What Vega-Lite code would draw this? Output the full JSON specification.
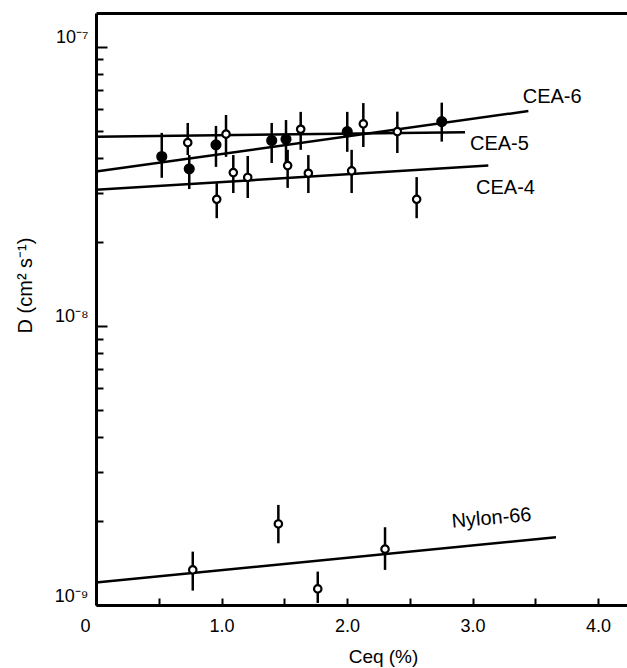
{
  "$schema": "https://vega.github.io/schema/vega-lite/v6.json",
  "width": 531,
  "height": 592,
  "autosize": {"type": "none"},
  "padding": {"left": 96, "top": 13, "right": 0, "bottom": 63},
  "background": "white",
  "config": {"view": {"stroke": null}, "font": "Liberation Sans"},
  "datasets": {
    "pts": [
      {"series": "CEA", "x": 0.524, "y": 4.04e-8, "lo": 3.39e-8, "hi": 4.91e-8, "kind": "filled"},
      {"series": "CEA", "x": 0.731, "y": 4.53e-8, "lo": 4.09e-8, "hi": 5.33e-8, "kind": "open"},
      {"series": "CEA", "x": 0.743, "y": 3.65e-8, "lo": 3.09e-8, "hi": 4.09e-8, "kind": "filled"},
      {"series": "CEA", "x": 0.956, "y": 4.45e-8, "lo": 3.71e-8, "hi": 5.20e-8, "kind": "filled"},
      {"series": "CEA", "x": 1.036, "y": 4.86e-8, "lo": 4.03e-8, "hi": 5.69e-8, "kind": "open"},
      {"series": "CEA", "x": 1.094, "y": 3.54e-8, "lo": 2.99e-8, "hi": 4.09e-8, "kind": "open"},
      {"series": "CEA", "x": 1.209, "y": 3.40e-8, "lo": 2.87e-8, "hi": 4.06e-8, "kind": "open"},
      {"series": "CEA", "x": 0.962, "y": 2.84e-8, "lo": 2.43e-8, "hi": 3.25e-8, "kind": "open"},
      {"series": "CEA", "x": 1.400, "y": 4.61e-8, "lo": 3.83e-8, "hi": 5.33e-8, "kind": "filled"},
      {"series": "CEA", "x": 1.514, "y": 4.66e-8, "lo": 3.83e-8, "hi": 5.46e-8, "kind": "filled"},
      {"series": "CEA", "x": 1.527, "y": 3.75e-8, "lo": 3.12e-8, "hi": 4.27e-8, "kind": "open"},
      {"series": "CEA", "x": 1.631, "y": 5.06e-8, "lo": 4.27e-8, "hi": 5.84e-8, "kind": "open"},
      {"series": "CEA", "x": 1.692, "y": 3.52e-8, "lo": 2.99e-8, "hi": 4.09e-8, "kind": "open"},
      {"series": "CEA", "x": 2.002, "y": 4.96e-8, "lo": 4.20e-8, "hi": 5.84e-8, "kind": "filled"},
      {"series": "CEA", "x": 2.130, "y": 5.29e-8, "lo": 4.37e-8, "hi": 6.28e-8, "kind": "open"},
      {"series": "CEA", "x": 2.037, "y": 3.59e-8, "lo": 2.99e-8, "hi": 4.27e-8, "kind": "open"},
      {"series": "CEA", "x": 2.401, "y": 4.96e-8, "lo": 4.16e-8, "hi": 5.85e-8, "kind": "open"},
      {"series": "CEA", "x": 2.755, "y": 5.39e-8, "lo": 4.57e-8, "hi": 6.30e-8, "kind": "filled"},
      {"series": "CEA", "x": 2.555, "y": 2.84e-8, "lo": 2.43e-8, "hi": 3.41e-8, "kind": "open"},
      {"series": "Nylon-66", "x": 0.771, "y": 1.336e-9, "lo": 1.126e-9, "hi": 1.553e-9, "kind": "open"},
      {"series": "Nylon-66", "x": 1.453, "y": 1.951e-9, "lo": 1.664e-9, "hi": 2.283e-9, "kind": "open"},
      {"series": "Nylon-66", "x": 1.767, "y": 1.142e-9, "lo": 1.017e-9, "hi": 1.317e-9, "kind": "open"},
      {"series": "Nylon-66", "x": 2.303, "y": 1.585e-9, "lo": 1.336e-9, "hi": 1.899e-9, "kind": "open"}
    ],
    "lines": [
      {"series": "CEA-5", "x": 0, "y": 4.76e-8},
      {"series": "CEA-5", "x": 2.94, "y": 4.94e-8},
      {"series": "CEA-6", "x": 0, "y": 3.57e-8},
      {"series": "CEA-6", "x": 3.445, "y": 5.88e-8},
      {"series": "CEA-4", "x": 0, "y": 3.07e-8},
      {"series": "CEA-4", "x": 3.126, "y": 3.75e-8},
      {"series": "Nylon-66", "x": 0, "y": 1.203e-9},
      {"series": "Nylon-66", "x": 3.665, "y": 1.749e-9}
    ],
    "labels": [
      {"label": "CEA-6", "x": 3.4, "y": 6.62e-8},
      {"label": "CEA-5", "x": 2.98, "y": 4.47e-8},
      {"label": "CEA-4", "x": 3.028, "y": 3.11e-8},
      {"label": "Nylon-66", "x": 2.834, "y": 1.988e-9}
    ]
  },
  "encoding": {
    "x": {"field": "x", "type": "quantitative", "scale": {"domain": [0, 4.231], "nice": false, "zero": false}, "axis": null},
    "y": {
      "field": "y", "type": "quantitative",
      "scale": {"type": "log", "domain": [1e-9, 1.32e-7], "nice": false},
      "axis": {
        "title": "D  (cm²  s⁻¹)",
        "values": [1e-9, 2e-9, 3e-9, 4e-9, 5e-9, 6e-9, 7e-9, 8e-9, 9e-9, 1e-8, 2e-8, 3e-8, 4e-8, 5e-8, 6e-8, 7e-8, 8e-8, 9e-8, 1e-7],
        "labelExpr": "(datum.value > 0.99e-7 && datum.value < 1.01e-7) ? '10⁻⁷' : (datum.value > 0.99e-8 && datum.value < 1.01e-8) ? '10⁻⁸' : (datum.value > 0.99e-9 && datum.value < 1.01e-9) ? '10⁻⁹' : ''",
        "tickSize": {"condition": {"test": "(datum.value > 0.99e-7 && datum.value < 1.01e-7) || (datum.value > 0.99e-8 && datum.value < 1.01e-8) || (datum.value > 0.99e-9 && datum.value < 1.01e-9)", "value": -11}, "value": -7},
        "tickWidth": 2,
        "tickColor": "black",
        "domainColor": "black",
        "domainWidth": 3,
        "grid": false,
        "labelFont": "Liberation Sans",
        "labelFontSize": 18,
        "labelColor": "black",
        "labelBaseline": "alphabetic",
        "labelAlign": "right",
        "labelPadding": 19,
        "labelOffset": -4,
        "labelOverlap": false,
        "labelFlush": false,
        "titleFont": "Liberation Sans",
        "titleFontSize": 20,
        "titleFontWeight": "normal",
        "titleColor": "black",
        "titleX": -71,
        "titleY": 272,
        "titleBaseline": "middle",
        "titleAlign": "center",
        "titleAngle": -90
      }
    }
  },
  "resolve": {"axis": {"x": "independent"}},
  "layer": [
    {
      "data": {"name": "lines"},
      "mark": {"type": "line", "color": "black", "strokeWidth": 2.5},
      "encoding": {
        "detail": {"field": "series"},
        "x": {
          "field": "x", "type": "quantitative",
          "scale": {"domain": [0, 4.231], "nice": false, "zero": false},
          "axis": {
            "title": "Ceq  (%)",
            "values": [0, 0.5, 1, 1.5, 2, 2.5, 3, 3.5, 4],
            "labelExpr": "datum.value == 0 ? '0' : (datum.value % 1 == 0 ? format(datum.value, '.1f') : '')",
            "tickSize": -7,
            "tickWidth": 2,
            "tickColor": "black",
            "domainColor": "black",
            "domainWidth": 3,
            "grid": false,
            "labelFont": "Liberation Sans",
            "labelFontSize": 18,
            "labelColor": "black",
            "labelPadding": 19,
            "labelOverlap": false,
            "labelFlush": false,
            "labelOffset": {"condition": {"test": "datum.value == 0", "value": -11}, "value": 0},
            "titleFont": "Liberation Sans",
            "titleFontSize": 19,
            "titleFontWeight": "normal",
            "titleColor": "black",
            "titleX": 287,
            "titleY": 51,
            "titleBaseline": "middle"
          }
        }
      }
    },
    {
      "data": {"name": "pts"},
      "mark": {"type": "rule", "color": "black", "strokeWidth": 2.5},
      "encoding": {
        "y": {
          "field": "lo", "type": "quantitative",
          "scale": {"type": "log", "domain": [1e-9, 1.32e-7], "nice": false},
          "axis": {
            "title": "D  (cm²  s⁻¹)",
            "values": [1e-9, 2e-9, 3e-9, 4e-9, 5e-9, 6e-9, 7e-9, 8e-9, 9e-9, 1e-8, 2e-8, 3e-8, 4e-8, 5e-8, 6e-8, 7e-8, 8e-8, 9e-8, 1e-7],
            "labelExpr": "(datum.value > 0.99e-7 && datum.value < 1.01e-7) ? '10⁻⁷' : (datum.value > 0.99e-8 && datum.value < 1.01e-8) ? '10⁻⁸' : (datum.value > 0.99e-9 && datum.value < 1.01e-9) ? '10⁻⁹' : ''",
            "tickSize": {"condition": {"test": "(datum.value > 0.99e-7 && datum.value < 1.01e-7) || (datum.value > 0.99e-8 && datum.value < 1.01e-8) || (datum.value > 0.99e-9 && datum.value < 1.01e-9)", "value": -11}, "value": -7},
            "tickWidth": 2,
            "tickColor": "black",
            "domainColor": "black",
            "domainWidth": 3,
            "grid": false,
            "labelFont": "Liberation Sans",
            "labelFontSize": 18,
            "labelColor": "black",
            "labelBaseline": "alphabetic",
            "labelAlign": "right",
            "labelPadding": 19,
            "labelOffset": -4,
            "labelOverlap": false,
            "labelFlush": false,
            "titleFont": "Liberation Sans",
            "titleFontSize": 20,
            "titleFontWeight": "normal",
            "titleColor": "black",
            "titleX": -71,
            "titleY": 272,
            "titleBaseline": "middle",
            "titleAlign": "center",
            "titleAngle": -90
          }
        },
        "y2": {"field": "hi"}
      }
    },
    {
      "data": {"name": "pts"},
      "mark": {"type": "point", "shape": "circle", "filled": true, "stroke": "black", "strokeWidth": 2.2, "opacity": 1},
      "encoding": {
        "fill": {"condition": {"test": "datum.kind == 'filled'", "value": "black"}, "value": "white"},
        "size": {"condition": {"test": "datum.kind == 'filled'", "value": 80}, "value": 55}
      }
    },
    {
      "data": {"name": "labels"},
      "mark": {"type": "text", "align": "left", "baseline": "middle", "font": "Liberation Sans", "fontSize": 20, "color": "black"},
      "encoding": {
        "text": {"field": "label"},
        "angle": {"condition": {"test": "datum.label == 'Nylon-66'", "value": -5}, "value": 0},
        "x": {
          "field": "x", "type": "quantitative",
          "scale": {"domain": [0, 4.231], "nice": false, "zero": false},
          "axis": {"orient": "top", "labels": false, "ticks": false, "title": null, "domainColor": "black", "domainWidth": 3, "grid": false}
        }
      }
    }
  ]
}
